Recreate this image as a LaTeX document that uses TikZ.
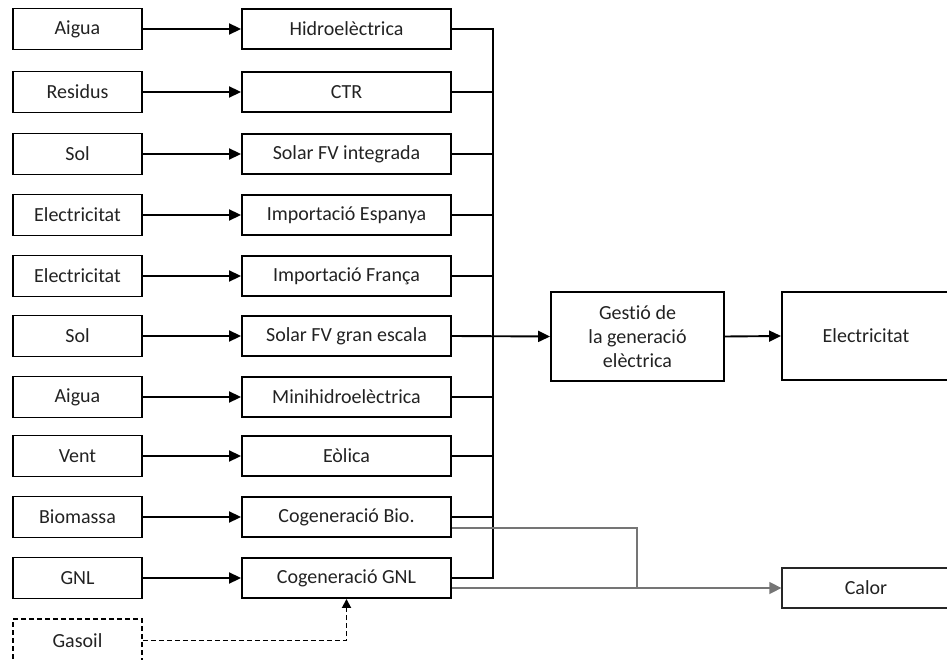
\documentclass[tikz,border=0pt]{standalone}
\usepackage{fontspec}
\setmainfont{Carlito}[Ligatures={NoCommon}]
\usetikzlibrary{arrows.meta}
\definecolor{txt}{HTML}{222222}
\definecolor{heatgray}{HTML}{757575}
\begin{document}
\begin{tikzpicture}[x=1pt,y=-1pt,
  box/.style={draw=black,line width=1.9pt,rectangle,inner sep=0pt,text=txt,
    font=\fontsize{20}{24}\selectfont,align=center},
  src/.style={box,minimum width=129pt,minimum height=41pt},
  plant/.style={box,minimum width=209pt,minimum height=40pt},
  flow/.style={line width=1.9pt,-{Triangle[length=12pt,width=11pt]}},
  wire/.style={line width=1.9pt},
  heat/.style={line width=1.5pt,draw=heatgray},
  optional/.style={dash pattern=on 5pt off 3pt}]
\useasboundingbox (0,0) rectangle (947,660);

% sources and generation plants, one row each
\foreach \i/\y/\s/\p in {
  1/29/Aigua/Hidroelèctrica,
  2/92/Residus/CTR,
  3/154/Sol/Solar FV integrada,
  4/215/Electricitat/Importació Espanya,
  5/276/Electricitat/Importació França,
  6/336/Sol/Solar FV gran escala,
  7/397/Aigua/Minihidroelèctrica,
  8/456/Vent/Eòlica,
  9/517/Biomassa/Cogeneració Bio.,
  10/578/GNL/Cogeneració GNL}{
  \node[src] (s\i) at (77.5,\y) {\s};
  \node[plant] (m\i) at (346.5,\y) {\p};
  \draw[flow] (s\i.east) -- (m\i.west);
}

% optional fuel for the GNL cogeneration
\node[src,optional,minimum height=43pt] (gas) at (77.5,640.5) {Gasoil};
\draw[line width=1.8pt,optional,-{Triangle[length=9pt,width=9pt]}]
  (gas.east) -| (m10.south);

% management and final products
\node[box,minimum width=173pt,minimum height=89pt] (gest) at (637.5,336.5)
  {Gestió de\\la generació\\elèctrica};
\node[box,minimum width=168pt,minimum height=88pt] (elec) at (866,336)
  {Electricitat};
\node[box,line width=1.3pt,draw=black!85,minimum width=168pt,minimum height=40pt]
  (calor) at (866,588) {Calor};

% collector bus
\coordinate (busx) at (493,0);
\draw[wire] (m1.east) -| (m10.east -| busx) -- (m10.east);
\foreach \i in {2,3,4,5,7,8,9}{
  \draw[wire] (m\i.east) -- (m\i.east -| busx);
}
\draw[flow] (m6.east) -- (gest.west);
\draw[flow] (gest.east) -- (elec.west);

% heat outputs of the cogeneration plants
\coordinate (bioheat) at ([yshift=-11pt]m9.east);
\coordinate (gnlheat) at ([yshift=-10pt]m10.east);
\coordinate (join) at (637,0);
\draw[heat] (bioheat) -| (gnlheat -| join);
\draw[heat,-{Triangle[length=12pt,width=12pt]}] (gnlheat) -- (calor.west |- gnlheat);
\end{tikzpicture}
\end{document}
